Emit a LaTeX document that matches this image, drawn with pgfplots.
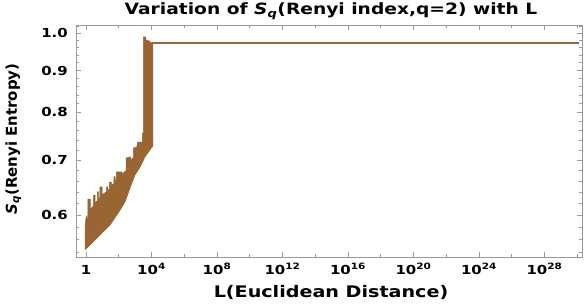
\documentclass[border=0pt]{standalone}
\usepackage{fontspec}
\setmainfont{DejaVu Sans}[FakeStretch=1.2]
\newfontfamily\ylabfont{DejaVu Sans}
\usepackage{pgfplots}
\pgfplotsset{compat=1.18}
\definecolor{mbrown}{rgb}{0.6,0.4,0.2}
\definecolor{fr}{gray}{0.6}
\begin{document}
\begin{tikzpicture}
\path[use as bounding box] (-76bp,-51bp) rectangle (511bp,257bp);
\begin{axis}[
  at={(0,0)}, anchor=south west,
  scale only axis, width=506bp, height=232bp,
  xmode=log, ymode=log,
  xmin=0.245, xmax=1.95e30, ymin=0.533, ymax=1.0227,
  xtick={1,1e4,1e8,1e12,1e16,1e20,1e24,1e28},
  xticklabels={1,10\textsuperscript{4},10\textsuperscript{8},10\textsuperscript{12},10\textsuperscript{16},10\textsuperscript{20},10\textsuperscript{24},10\textsuperscript{28}},
  minor xtick={1e2,1e6,1e10,1e14,1e18,1e22,1e26,1e30},
  ytick={0.6,0.7,0.8,0.9,1.0},
  yticklabels={0.6,0.7,0.8,0.9,1.0},
  minor ytick={0.54,0.56,0.58,0.62,0.64,0.66,0.68,0.72,0.74,0.76,0.78,0.82,0.84,0.86,0.88,0.92,0.94,0.96,0.98,1.02},
  axis line style={fr, line width=0.8bp},
  tick style={color=fr, line width=0.6bp},
  major tick length=5bp, minor tick length=3bp,
  tick label style={font=\fontsize{12.5}{14}\selectfont\bfseries, inner sep=0pt},
  xticklabel style={anchor=base, yshift=-17bp},
  yticklabel style={anchor=east, xshift=-8bp},
]
\addplot[fill=mbrown, draw=mbrown, line width=0.5bp] coordinates {
(0.871,0.544) (0.871,0.58) (1,0.595) (1.122,0.598) (1.202,0.59) (1.318,0.59)
(1.318,0.627) (1.862,0.627) (1.862,0.61) (2.818,0.615) (2.818,0.634) (3.548,0.634)
(3.548,0.62) (5.0,0.625) (5.0,0.64) (6.0,0.64) (6.0,0.628) (7.079,0.63)
(7.079,0.649) (9.55,0.649) (9.55,0.635) (17.78,0.64) (17.78,0.649) (21.38,0.649)
(21.38,0.642) (26.30,0.645) (26.30,0.658) (35.48,0.658) (35.48,0.652) (50,0.655)
(50,0.668) (60,0.668) (60,0.66) (70.79,0.663) (70.79,0.677) (158.5,0.677)
(158.5,0.672) (281.8,0.68) (281.8,0.704) (524.8,0.706) (524.8,0.70) (794.3,0.705)
(794.3,0.724) (1259,0.726) (1413,0.736) (2239,0.736) (2239,0.732) (2818,0.738)
(2818,0.755) (3162,0.755)
(3162,0.989) (4571,0.989) (4571,0.98) (6026,0.98) (6026,0.978) (7943,0.978)
(7943,0.974) (12023,0.974) (12023,0.728) (8128,0.720) (3981,0.706) (1995,0.686)
(977.2,0.671) (489.8,0.647) (239.9,0.622) (120.2,0.608) (29.51,0.583) (7.079,0.567)
(3.548,0.559) (1.738,0.551) (0.871,0.544)
};
\addplot[mbrown, line width=2.6bp] coordinates {(12000,0.972) (1.25e30,0.972)};
\end{axis}
\node[anchor=base, font=\fontsize{15.6}{18}\selectfont\bfseries] at (255bp,242bp)
  {Variation of \textit{S}\textsubscript{\textit{q}}(Renyi index,q=2) with L};
\node[anchor=base, font=\fontsize{16}{18}\selectfont\bfseries] at (255bp,-40bp)
  {L(Euclidean Distance)};
\node[anchor=base, rotate=90, font=\ylabfont\fontsize{15}{18}\selectfont\bfseries] at (-59bp,118bp)
  {\textit{S}\textsubscript{\textit{q}}(Renyi Entropy)};
\end{tikzpicture}
\end{document}
